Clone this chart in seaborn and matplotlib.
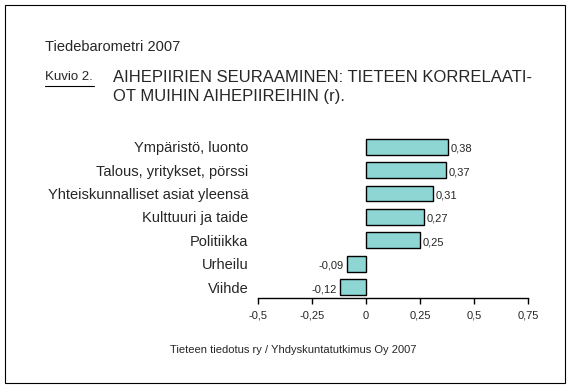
import matplotlib
matplotlib.use("Agg")
import matplotlib.pyplot as plt
from matplotlib.lines import Line2D
from matplotlib.patches import Rectangle
import seaborn as sns
import pandas as pd

# Aihepiirit ja korrelaatiot (r)
aihepiirit = ["Ympäristö, luonto", "Talous, yritykset, pörssi",
              "Yhteiskunnalliset asiat yleensä", "Kulttuuri ja taide",
              "Politiikka", "Urheilu", "Viihde"]
korrelaatiot = [0.38, 0.37, 0.31, 0.27, 0.25, -0.09, -0.12]
x_ticks = [-0.5, -0.25, 0, 0.25, 0.5, 0.75]
x_tick_labels = ["-0,5", "-0,25", "0", "0,25", "0,5", "0,75"]

df = pd.DataFrame({"aihe": aihepiirit, "r": korrelaatiot})

sns.set_style("white")
plt.rcParams["font.family"] = ["Liberation Sans", "DejaVu Sans"]

fig = plt.figure(figsize=(5.71, 3.89), dpi=100)
ax = fig.add_axes([0.4518, 0.2339, 0.4729, 0.419])

sns.barplot(data=df, x="r", y="aihe", orient="h", color="#8DD6D4",
            saturation=1, width=0.68, edgecolor="black", linewidth=1, ax=ax)

labels = [f"{v:.2f}".replace(".", ",") for v in korrelaatiot]
for t in ax.bar_label(ax.containers[0], labels=labels, padding=2, fontsize=8):
    # hieman alaspäin kuten alkuperäisessä
    t.xyann = (t.xyann[0], -1.5)

ax.set_xlim(-0.5, 0.75)
ax.set_ylim(6.47, -0.5)
ax.set_xticks(x_ticks)
ax.set_xticklabels(x_tick_labels, fontsize=8)
ax.set_xlabel("")
ax.set_ylabel("")
ax.tick_params(axis="y", length=0, labelsize=10.5, pad=7)
ax.tick_params(axis="x", direction="out", length=4, width=1, color="black",
               bottom=True, pad=5)
for s in ["left", "right", "top"]:
    ax.spines[s].set_visible(False)
ax.spines["bottom"].set_color("black")
ax.spines["bottom"].set_linewidth(1)

# Otsikot
fig.text(45 / 571, 1 - 47 / 389, "Tiedebarometri 2007", fontsize=10.5, va="center")
fig.text(45 / 571, 1 - 77 / 389, "Kuvio 2.", fontsize=9.5, va="center")
fig.lines.append(Line2D([45 / 571, 94 / 571], [1 - 86 / 389, 1 - 86 / 389],
                        transform=fig.transFigure, color="black", linewidth=0.8))
fig.text(113 / 571, 1 - 77 / 389,
         "AIHEPIIRIEN SEURAAMINEN: TIETEEN KORRELAATI-", fontsize=12, va="center")
fig.text(113 / 571, 1 - 97 / 389, "OT MUIHIN AIHEPIIREIHIN (r).",
         fontsize=12, va="center")
fig.text(170 / 571, 1 - 350 / 389,
         "Tieteen tiedotus ry / Yhdyskuntatutkimus Oy 2007", fontsize=8,
         va="center")

# Kehys
fig.patches.append(Rectangle((5 / 571, 1 - 383 / 389), 560 / 571, 378 / 389,
                             transform=fig.transFigure, fill=False,
                             edgecolor="black", linewidth=0.8))

fig.savefig("out.png", dpi=100)
